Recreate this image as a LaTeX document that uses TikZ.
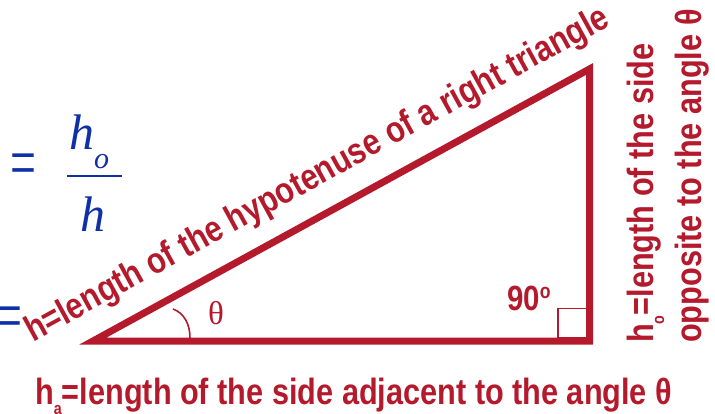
\documentclass[tikz,border=0pt]{standalone}
\usepackage{fontspec}
\setmainfont{Liberation Sans}
\newfontfamily\nb{Liberation Sans}[FakeStretch=0.84, UprightFont={* Bold}, BoldFont={* Bold}]
\newfontfamily\tms{Liberation Serif}
\definecolor{tred}{RGB}{180,26,44}
\definecolor{tblue}{RGB}{16,48,168}
\tikzset{
  lbl/.style={text=tred, font=\nb\fontsize{36.5}{40}\selectfont, inner sep=0pt},
  bmath/.style={text=tblue, font=\tms\itshape\fontsize{50}{50}\selectfont, inner sep=0pt},
  beq/.style={text=tblue, font=\tms\fontsize{46}{46}\selectfont, inner sep=0pt},
  side/.style={draw=tred, line width=7pt, line join=miter},
  thin/.style={draw=tred, line width=1.6pt}
}
\begin{document}
\begin{tikzpicture}[x=1pt,y=-1pt]
\useasboundingbox (0,0) rectangle (715,414);
% vertices
\coordinate (A) at (93,341);
\coordinate (R) at (589.5,341);
\coordinate (T) at (589.5,69);
% right angle mark
\coordinate (sq1) at (558,338);
\coordinate (sq2) at (587,308.5);
\draw[thin] (sq1) rectangle (sq2);
% angle arc
\coordinate (arcA) at (190,338);
\coordinate (arcB) at (173,309);
\draw[thin] (arcA) .. controls (190,324) and (184,313) .. (arcB);
% triangle
\draw[side] (A) -- (R) -- (T) -- cycle;
% labels
\node[lbl, rotate=28.8, anchor=base west] (hyp) at (33,343) {h=length of the hypotenuse of a right triangle};
\node[lbl, rotate=90, anchor=base west] (opp1) at (653,343) {h\raisebox{-11pt}{\fontsize{17}{17}\selectfont o}=length of the side};
\node[lbl, rotate=90, anchor=base west] (opp2) at (701,343) {opposite to the angle θ};
\node[lbl, anchor=base west] (adj) at (35,404) {h\raisebox{-10pt}{\fontsize{17}{17}\selectfont a}=length of the side adjacent to the angle θ};
\node[lbl, anchor=base west, font=\nb\fontsize{35}{35}\selectfont] (ninety) at (507,310) {90\raisebox{12pt}{\fontsize{21}{21}\selectfont o}};
\node[text=tred, font=\tms\fontsize{33}{33}\selectfont, anchor=base west, inner sep=0pt] (th) at (208,324) {θ};
% blue formula
\node[beq, anchor=base west] (eq1) at (10.6,187.5) {\scalebox{1}[1.6]{=}};
\node[beq, anchor=base west] (eq2) at (-3.5,340.7) {\scalebox{1}[1.6]{=}};
\node[bmath, anchor=base west] (num) at (69,150) {h\raisebox{-19pt}{\fontsize{30}{30}\selectfont o}};
\node[bmath, anchor=base west] (den) at (80,232) {h};
\coordinate (barL) at (67,176);
\coordinate (barR) at (122,176);
\draw[tblue, line width=1.8pt] (barL) -- (barR);
\end{tikzpicture}
\end{document}
